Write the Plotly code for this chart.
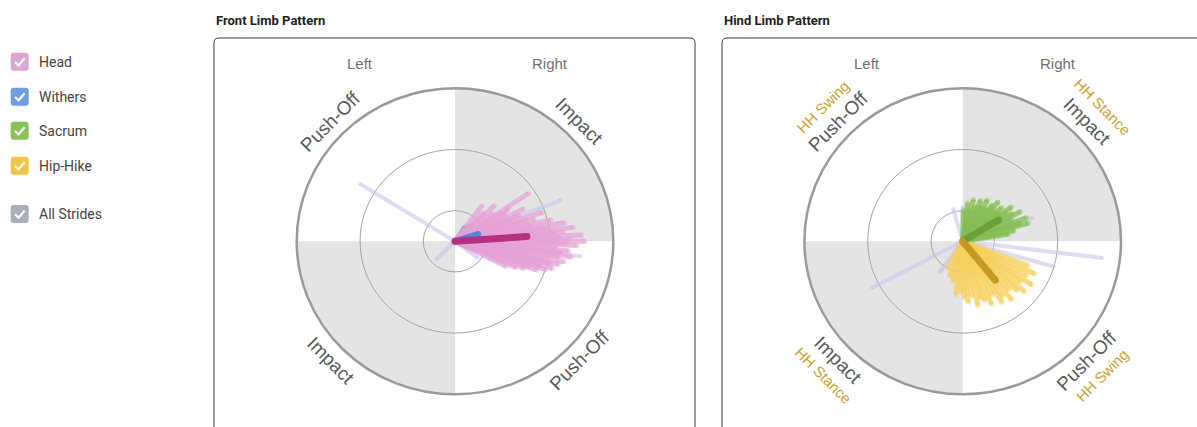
import numpy as np
import plotly.graph_objects as go

W, H = 1197, 427

# ---------------- data ----------------
LEGEND_LABELS = ["Head", "Withers", "Sacrum", "Hip-Hike", "All Strides"]
PANEL_TITLES = ["Front Limb Pattern", "Hind Limb Pattern"]
SIDE_LABELS = ["Left", "Right"]
PHASE_LABELS = ["Push-Off", "Impact", "Impact", "Push-Off"]   # TL, TR, BL, BR
HH_LABELS = ["HH Swing", "HH Stance", "HH Stance", "HH Swing"]  # TL, TR, BL, BR
RINGS = [0.2, 0.6]

# Front limb – Head strides (angle in degrees, length as fraction of outer ring)
HEAD_ANG = [54, 46, 43, 37, 34, 32, 29, 26, 23, 22, 19, 17, 16, 13, 12,
            10, 9, 7, 6, 5, 3, 2, 1, 0, -1, -2, -4, -5, -6, -7,
            -8, -9, -11, -12, -13, -14, -15, -16, -17, -18, -19, -20, -22, -24, -27]
HEAD_LEN = [0.29, 0.26, 0.34, 0.30, 0.56, 0.40, 0.36, 0.48, 0.44, 0.38, 0.58, 0.47, 0.52, 0.62, 0.49,
            0.70, 0.57, 0.75, 0.63, 0.69, 0.80, 0.66, 0.73, 0.82, 0.70, 0.77, 0.64, 0.72, 0.68, 0.60,
            0.74, 0.66, 0.70, 0.58, 0.67, 0.62, 0.55, 0.64, 0.56, 0.60, 0.50, 0.55, 0.47, 0.42, 0.36]
HEAD_MEAN = (3.9, 0.455)

WITH_ANG = [58, 50, 44, 38, 32, 26, 20, 14]
WITH_LEN = [0.11, 0.13, 0.15, 0.14, 0.16, 0.15, 0.17, 0.14]
WITH_MEAN = (18, 0.155)

ALL_F_ANG = [148, -37, 22, 225, -7]
ALL_F_LEN = [0.71, 0.18, 0.72, 0.17, 0.80]

# Hind limb – Sacrum and Hip-Hike strides
SAC_ANG = [89, 83, 79, 76, 71, 67, 63, 60, 56, 52, 49, 46, 42, 40, 36, 34, 30, 28, 24, 21, 18, 16, 12, 9]
SAC_LEN = [0.20, 0.25, 0.21, 0.28, 0.24, 0.29, 0.25, 0.31, 0.26, 0.30, 0.34, 0.28, 0.33, 0.29, 0.38,
           0.33, 0.36, 0.41, 0.34, 0.43, 0.38, 0.43, 0.33, 0.29]
SAC_MEAN = (31.7, 0.265)

HIP_ANG = [-21, -25, -29, -33, -36, -40, -43, -47, -51, -55, -58, -62, -66, -70, -73, -77, -81, -85,
           -88, -92, -97, -103, -110, -119]
HIP_LEN = [0.44, 0.50, 0.46, 0.52, 0.45, 0.51, 0.47, 0.43, 0.49, 0.44, 0.47, 0.40, 0.45, 0.41, 0.39,
           0.43, 0.36, 0.40, 0.37, 0.33, 0.35, 0.27, 0.24, 0.20]
HIP_MEAN = (-51, 0.327)

ALL_H_ANG = [-7, -16, 19, 208, 106, 90, 234]
ALL_H_LEN = [0.89, 0.60, 0.47, 0.65, 0.22, 0.225, 0.25]

# ---------------- styles ----------------
LEGEND_COLORS = ["#dca6d2", "#6e9de0", "#8cc157", "#f3c545", "#a9afbb"]
GRAY_Q = "#e4e4e4"
GOLD = "#c9a22f"

# pixel geometry of the reference
RX, RY = 158.3, 153.0
CY = 241.3
FRONT_CX, HIND_CX = 455.0, 962.7
BOX_TOP = 38


def px_x(p):
    return p / W


def px_y(p):
    return 1 - p / H


fig = go.Figure()

y_dom = [0, (H - BOX_TOP) / H]
y_rng = [(CY - H) / RY, (CY - BOX_TOP) / RY]
fig.update_layout(
    xaxis=dict(domain=[px_x(214), px_x(695)], range=[(214 - FRONT_CX) / RX, (695 - FRONT_CX) / RX]),
    yaxis=dict(domain=y_dom, range=y_rng, anchor="x"),
    xaxis2=dict(domain=[px_x(722), 1], range=[(722 - HIND_CX) / RX, (W - HIND_CX) / RX], anchor="y2"),
    yaxis2=dict(domain=y_dom, range=y_rng, anchor="x2"),
)
for ax in ["xaxis", "yaxis", "xaxis2", "yaxis2"]:
    fig.layout[ax].update(visible=False, showgrid=False, zeroline=False, fixedrange=True)

shapes = []
annotations = []


def sector_path(a0, a1, r=1.0):
    t = np.radians(np.linspace(a0, a1, 80))
    pts = " ".join(f"L {r*np.cos(v):.4f},{r*np.sin(v):.4f}" for v in t)
    return f"M 0,0 {pts} Z"


def round_rect(x0, y0, x1, y1, r):
    # pixel coords -> paper path with rounded corners
    P = lambda x, y: f"{px_x(x):.5f},{px_y(y):.5f}"
    return (f"M {P(x0, y0 + r)} Q {P(x0, y0)} {P(x0 + r, y0)} L {P(x1 - r, y0)} "
            f"Q {P(x1, y0)} {P(x1, y0 + r)} L {P(x1, y1 - r)} Q {P(x1, y1)} {P(x1 - r, y1)} "
            f"L {P(x0 + r, y1)} Q {P(x0, y1)} {P(x0, y1 - r)} Z")


# panel boxes and titles
for (bx0, bx1), title in zip([(214, 695), (722, 1203)], PANEL_TITLES):
    shapes.append(dict(type="path", xref="paper", yref="paper", path=round_rect(bx0, BOX_TOP, bx1, 445, 5),
                       line=dict(color="#3c3c3c", width=1), fillcolor="rgba(0,0,0,0)", layer="below"))
    annotations.append(dict(xref="paper", yref="paper", x=px_x(bx0), y=px_y(20), xanchor="left", yanchor="middle",
                            text=f"<b>{title}</b>", showarrow=False,
                            font=dict(family="Roboto", size=13, color="#222")))

# polar background for each panel
for xr, yr in [("x", "y"), ("x2", "y2")]:
    for a0, a1 in [(0, 90), (180, 270)]:
        shapes.append(dict(type="path", xref=xr, yref=yr, path=sector_path(a0, a1), fillcolor=GRAY_Q,
                           line=dict(width=0), layer="below"))
    for r in RINGS:
        shapes.append(dict(type="circle", xref=xr, yref=yr, x0=-r, x1=r, y0=-r, y1=r,
                           line=dict(color="#a3a3a3", width=1), layer="below"))
    shapes.append(dict(type="circle", xref=xr, yref=yr, x0=-1, x1=1, y0=-1, y1=1,
                       line=dict(color="#9a9a9a", width=2.5), layer="below"))
    # side labels
    for lbl, sx in zip(SIDE_LABELS, [-0.603, 0.603]):
        annotations.append(dict(xref=xr, yref=yr, x=sx, y=1.165, text=lbl, showarrow=False,
                                font=dict(family="Liberation Sans", size=15, color="#717171")))
    # phase labels
    for lbl, (sx, sy), ang in zip(PHASE_LABELS, [(-1, 1), (1, 1), (-1, -1), (1, -1)], [-45, 45, 45, -45]):
        annotations.append(dict(xref=xr, yref=yr, x=sx * 0.785, y=sy * 0.78, text=lbl, showarrow=False,
                                textangle=ang, xanchor="center", yanchor="middle",
                                font=dict(family="Liberation Sans", size=19, color="#5a5a5a")))

# HH labels (hind only)
for lbl, (sx, sy), ang in zip(HH_LABELS, [(-1, 1), (1, 1), (-1, -1), (1, -1)], [-45, 45, 45, -45]):
    annotations.append(dict(xref="x2", yref="y2", x=sx * 0.88, y=sy * 0.878, text=lbl, showarrow=False,
                            textangle=ang, xanchor="center", yanchor="middle",
                            font=dict(family="Liberation Sans", size=15, color=GOLD)))


def add_strides(angs, lens, color, width, xr, yr):
    for a, r in zip(angs, lens):
        t = np.radians(a)
        fig.add_trace(go.Scatter(x=[0, r * np.cos(t)], y=[0, r * np.sin(t)], mode="lines+markers",
                                 line=dict(color=color, width=width),
                                 marker=dict(color=color, size=[0, width], line=dict(width=0)),
                                 xaxis=xr, yaxis=yr, hoverinfo="skip", showlegend=False))


def add_mean(m, color, width, xr, yr):
    a, r = m
    t = np.radians(a)
    fig.add_trace(go.Scatter(x=[0, r * np.cos(t)], y=[0, r * np.sin(t)], mode="lines+markers",
                             line=dict(color=color, width=width), marker=dict(color=color, size=width),
                             xaxis=xr, yaxis=yr, hoverinfo="skip", showlegend=False))


LAV = "rgba(196,196,234,0.6)"
# front
add_strides(ALL_F_ANG, ALL_F_LEN, LAV, 4, "x", "y")
add_strides(WITH_ANG, WITH_LEN, "rgba(95,145,225,0.85)", 4, "x", "y")
add_strides(HEAD_ANG, HEAD_LEN, "rgba(230,162,214,0.72)", 5, "x", "y")
add_mean(WITH_MEAN, "#4d86dd", 6, "x", "y")
add_mean(HEAD_MEAN, "#b5307f", 7, "x", "y")
# hind
add_strides(ALL_H_ANG, ALL_H_LEN, LAV, 4, "x2", "y2")
add_strides(SAC_ANG, SAC_LEN, "rgba(132,190,82,0.75)", 5, "x2", "y2")
add_strides(HIP_ANG, HIP_LEN, "rgba(246,208,92,0.78)", 5, "x2", "y2")
add_mean(SAC_MEAN, "#6b9f3b", 7, "x2", "y2")
add_mean(HIP_MEAN, "#c49a25", 7, "x2", "y2")

# legend (checkbox list)
LEG_Y = [61.7, 96.7, 130.7, 165.7, 214]
for lbl, col, cy in zip(LEGEND_LABELS, LEGEND_COLORS, LEG_Y):
    shapes.append(dict(type="path", xref="paper", yref="paper",
                       path=round_rect(10.7, cy - 9, 28.7, cy + 9, 3), fillcolor=col, line=dict(width=0)))
    ck = (f"M {px_x(15):.5f},{px_y(cy + 0.3):.5f} L {px_x(18.6):.5f},{px_y(cy + 3.6):.5f} "
          f"L {px_x(24.6):.5f},{px_y(cy - 3.4):.5f}")
    shapes.append(dict(type="path", xref="paper", yref="paper", path=ck, line=dict(color="white", width=2.2)))
    annotations.append(dict(xref="paper", yref="paper", x=px_x(37), y=px_y(cy), xanchor="left", yanchor="middle",
                            text=lbl, showarrow=False, font=dict(family="Roboto", size=14, color="#444")))

fig.update_layout(width=W, height=H, autosize=False, margin=dict(l=0, r=0, t=0, b=0),
                  paper_bgcolor="white", plot_bgcolor="rgba(0,0,0,0)", showlegend=False,
                  shapes=shapes, annotations=annotations)

fig.write_html("out.html", config={"displayModeBar": False},
               post_script="document.body.style.margin='0';document.body.style.overflow='hidden';")
